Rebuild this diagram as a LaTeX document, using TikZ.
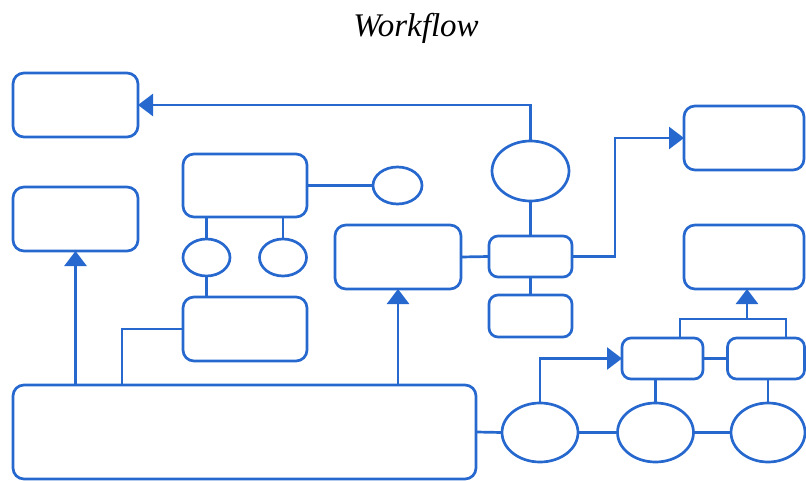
\documentclass[tikz,border=0pt]{standalone}
\usepackage{fontspec}
\setmainfont{Liberation Serif}
\usepackage{xcolor}
\usetikzlibrary{shapes,arrows.meta,positioning}

\definecolor{flowblue}{RGB}{38,104,206}

\begin{document}
\begin{tikzpicture}[
    x=1pt, y=-1pt,
    box/.style={rectangle, rounded corners=11pt, draw=flowblue, line width=2.7pt, inner sep=0pt, outer sep=0pt},
    oval/.style={ellipse, draw=flowblue, line width=2.7pt, inner sep=0pt, outer sep=0pt},
    link/.style={draw=flowblue, line width=2.7pt},
    arrow/.style={link, -{Triangle[width=22pt,length=15pt]}}
]
\useasboundingbox (0,0) rectangle (806,481);

% Title
\node[font=\fontsize{33}{38}\selectfont\itshape] (title) at (416,28) {Workflow};

% Left column boxes
\node[box, minimum width=125pt, minimum height=64pt] (outA) at (75.5,105) {};
\node[box, minimum width=125pt, minimum height=64pt] (outB) at (75.5,219) {};

% Middle group
\node[box, minimum width=124pt, minimum height=63pt] (group) at (245,185.5) {};
\node[oval, minimum width=49pt, minimum height=37pt] (tag) at (397.5,185.5) {};
\node[oval, minimum width=47pt, minimum height=37pt] (leftop) at (206.5,257.5) {};
\node[oval, minimum width=47pt, minimum height=37pt] (rightop) at (283,257.5) {};
\node[box, minimum width=124pt, minimum height=64pt] (merge) at (245,329) {};
\node[box, minimum width=126pt, minimum height=64pt] (stage) at (398,257) {};

% Base box
\node[box, minimum width=463pt, minimum height=94pt] (base) at (244.5,432) {};

% Centre column
\node[oval, minimum width=77pt, minimum height=60pt] (hub) at (530.5,171) {};
\node[box, rounded corners=9pt, minimum width=83pt, minimum height=41pt] (switch) at (530.5,256.5) {};
\node[box, rounded corners=9pt, minimum width=83pt, minimum height=42pt] (spare) at (530.5,316) {};

% Right column
\node[box, minimum width=120pt, minimum height=64pt] (outC) at (744,138) {};
\node[box, minimum width=120pt, minimum height=64pt] (outD) at (744,257) {};
\node[box, rounded corners=9pt, minimum width=81pt, minimum height=41pt] (taskA) at (662.5,358.5) {};
\node[box, rounded corners=9pt, minimum width=77pt, minimum height=41pt] (taskB) at (766,358.5) {};
\node[oval, minimum width=76pt, minimum height=59pt] (stepA) at (540,432.5) {};
\node[oval, minimum width=76pt, minimum height=59pt] (stepB) at (655.5,432.5) {};
\node[oval, minimum width=74pt, minimum height=59pt] (stepC) at (768,432.5) {};

% Connectors
\draw[arrow] (hub.north) |- (outA.east);
\draw[arrow] (base.north -| outB.south) -- (outB.south);
\draw[link] ([xshift=-61pt]merge.west |- base.north) |- (merge.west);
\draw[arrow] (base.north -| stage.south) -- (stage.south);
\draw[link] (group.east) -- (tag.west);
\draw[link] (leftop.north) -- (leftop.north |- group.south);
\draw[link] (rightop.north) -- (rightop.north |- group.south);
\draw[link] (leftop.south) -- (leftop.south |- merge.north);
\draw[link] (stage.east) -- (switch.west);
\draw[link] (hub.south) -- (switch.north);
\draw[link] (switch.south) -- (spare.north);
\draw[arrow] (switch.east) -- ++(43,0) |- (outC.west);
\draw[link] ([xshift=17.5pt]taskA.north) -- ++(0,-19) -| ([xshift=20pt]taskB.north);
\coordinate (fork) at (747,318);
\draw[arrow] (fork) -- (fork |- outD.south);
\draw[link] (taskA.east) -- (taskB.west);
\draw[link] (base.east) -- (stepA.west);
\draw[link] (stepA.east) -- (stepB.west);
\draw[link] (stepB.east) -- (stepC.west);
\draw[arrow] (stepA.north) |- (taskA.west);
\draw[link] (stepB.north) -- (stepB.north |- taskA.south);
\draw[link] (stepC.north) -- (stepC.north |- taskB.south);

\end{tikzpicture}
\end{document}
